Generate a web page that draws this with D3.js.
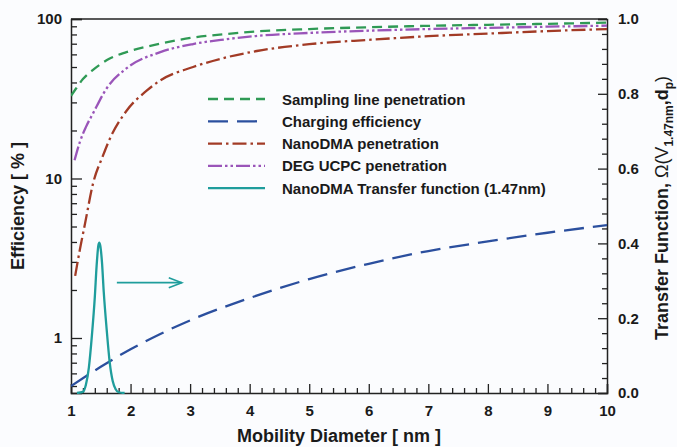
<!DOCTYPE html>
<html>
<head>
<meta charset="utf-8">
<script src="https://cdn.jsdelivr.net/npm/d3@7"></script>
<style>
  body { margin: 0; background: #fbfcfe; }
  svg { display: block; font-family: "Liberation Sans", Arial, sans-serif; font-weight: bold; }
</style>
</head>
<body>
<div id="chart"></div>
<script>
// values
const samplingD = [1.0, 1.07, 1.2, 1.37, 1.65, 1.93, 2.5, 3.05, 3.6, 4.1, 5, 6, 7, 8, 9, 10];
const samplingEff = [33, 36, 42, 48, 56.5, 62, 70, 76.5, 80.5, 83.5, 86.5, 88.8, 90.6, 92, 93.3, 94.8];

const chargingD = [1.0, 1.5, 2, 2.5, 3, 4, 5, 6, 7, 8, 9, 10];
const chargingEff = [0.5, 0.66, 0.85, 1.06, 1.29, 1.78, 2.34, 2.92, 3.51, 4.03, 4.57, 5.1];

const nanoDmaD = [1.07, 1.15, 1.235, 1.37, 1.54, 1.63, 1.93, 2.27, 2.49, 3.05, 3.61, 4.12, 5, 6, 7, 8, 9, 10];
const nanoDmaEff = [2.45, 3.6, 5.2, 9.3, 14, 17, 26.5, 35.5, 41, 50, 57.5, 63, 69.5, 74, 78, 81, 84, 86.5];

const ucpcD = [1.06, 1.15, 1.25, 1.37, 1.6, 1.93, 2.5, 3.05, 3.6, 4.1, 5, 6, 7, 8, 9, 10];
const ucpcEff = [13, 17, 21, 25.6, 36.8, 49, 62, 69.7, 74.6, 78.2, 81.8, 84.5, 86.5, 88, 89.5, 90.8];

const transferD = [1.1, 1.2, 1.25, 1.3, 1.35, 1.4, 1.43, 1.46, 1.475, 1.49, 1.52, 1.55, 1.6, 1.65, 1.7, 1.75, 1.8, 1.9];
const transferVal = [0, 0.003, 0.022, 0.068, 0.152, 0.257, 0.34, 0.395, 0.402, 0.395, 0.35, 0.27, 0.168, 0.082, 0.032, 0.01, 0.002, 0];

const xTicks = [1, 2, 3, 4, 5, 6, 7, 8, 9, 10];
const yLeftTicks = [1, 10, 100];
const yRightTicks = [0, 0.2, 0.4, 0.6, 0.8, 1.0];

const legendLabels = [
    "Sampling line penetration",
    "Charging efficiency",
    "NanoDMA penetration",
    "DEG UCPC penetration",
    "NanoDMA Transfer function (1.47nm)"
];

// arrow pointing to the right axis: x from/to, right-axis value
const arrowD = [1.77, 2.86];
const arrowVal = 0.295;

const width = 677, height = 447;
const margin = { top: 19, right: 70, bottom: 54, left: 71 };
const plotW = width - margin.left - margin.right;
const plotH = height - margin.top - margin.bottom;

const svg = d3.select('#chart').append('svg')
    .attr('width', width)
    .attr('height', height);

const g = svg.append('g').attr('transform', `translate(${margin.left},${margin.top})`);

const x = d3.scaleLinear().domain([1, 10]).range([0, plotW]);
const yL = d3.scaleLog().domain([0.452, 100]).range([plotH, 0]);
const yR = d3.scaleLinear().domain([0, 1]).range([plotH, 0]);

svg.append('defs').append('clipPath').attr('id', 'clip')
    .append('rect').attr('width', plotW).attr('height', plotH + 1);

const series = [
    { d: samplingD, v: samplingEff, color: '#2f9a55', dash: '10,6', axis: yL },
    { d: chargingD, v: chargingEff, color: '#2b4f9e', dash: '20,9', axis: yL },
    { d: nanoDmaD, v: nanoDmaEff, color: '#a23b26', dash: '14,4,2.5,4', axis: yL },
    { d: ucpcD, v: ucpcEff, color: '#9a55b9', dash: '14,3,2.5,3,2.5,3', axis: yL },
    { d: transferD, v: transferVal, color: '#1f9d9c', dash: null, axis: yR }
];

// axes
const axisColor = '#222';

const xMinor = d3.range(1, 10.001, 0.2).filter(t => Math.abs(t - Math.round(t)) > 1e-6);
const leftMinor = [0.5, 0.6, 0.7, 0.8, 0.9, 2, 3, 4, 5, 6, 7, 8, 9, 20, 30, 40, 50, 60, 70, 80, 90];
const rightMinor = d3.range(0.04, 1, 0.04).filter(t => Math.abs(t * 5 - Math.round(t * 5)) > 1e-6);

g.append('g').attr('transform', `translate(0,${plotH})`)
    .call(d3.axisBottom(x).tickValues(xTicks).tickSize(-9).tickPadding(12).tickFormat(d3.format('d')));
g.append('g').attr('transform', `translate(0,${plotH})`)
    .call(d3.axisBottom(x).tickValues(xMinor).tickSize(-5).tickFormat(''))
    .call(a => a.select('.domain').remove());

g.append('g')
    .call(d3.axisLeft(yL).tickValues(yLeftTicks).tickSize(-11).tickPadding(9).tickFormat(d3.format('d')));
g.append('g')
    .call(d3.axisLeft(yL).tickValues(leftMinor).tickSize(-6).tickFormat(''))
    .call(a => a.select('.domain').remove());

g.append('g').attr('transform', `translate(${plotW},0)`)
    .call(d3.axisRight(yR).tickValues(yRightTicks).tickSize(-9).tickPadding(11).tickFormat(d3.format('.1f')));
g.append('g').attr('transform', `translate(${plotW},0)`)
    .call(d3.axisRight(yR).tickValues(rightMinor).tickSize(-5).tickFormat(''))
    .call(a => a.select('.domain').remove());

g.append('line').attr('x1', 0).attr('x2', plotW).attr('y1', 0).attr('y2', 0)
    .attr('stroke', axisColor).attr('stroke-width', 1.5);

g.selectAll('.domain').attr('stroke', axisColor).attr('stroke-width', 1.5);
g.selectAll('.tick line').attr('stroke', axisColor).attr('stroke-width', 1.3);
g.selectAll('.tick text').attr('fill', '#1a1a1a').style('font-size', '15px').style('font-weight', 'bold');

// curves
const lines = g.append('g').attr('clip-path', 'url(#clip)');
series.forEach(s => {
    const pts = s.d.map((d, i) => [d, s.v[i]]);
    const line = d3.line()
        .x(p => x(p[0]))
        .y(p => s.axis(p[1]))
        .curve(d3.curveMonotoneX);
    lines.append('path')
        .datum(pts)
        .attr('d', line)
        .attr('fill', 'none')
        .attr('stroke', s.color)
        .attr('stroke-width', 2.3)
        .attr('stroke-dasharray', s.dash);
});

// arrow
const ax1 = x(arrowD[0]), ax2 = x(arrowD[1]), ay = yR(arrowVal);
g.append('line').attr('x1', ax1).attr('x2', ax2).attr('y1', ay).attr('y2', ay)
    .attr('stroke', '#1f9d9c').attr('stroke-width', 1.6);
g.append('path')
    .attr('d', `M${ax2 - 13},${ay - 5} L${ax2},${ay} L${ax2 - 13},${ay + 5}`)
    .attr('fill', 'none').attr('stroke', '#1f9d9c').attr('stroke-width', 1.6);

// legend
const legend = g.append('g').attr('transform', `translate(${208 - margin.left},${99 - margin.top})`);
legendLabels.forEach((label, i) => {
    const row = legend.append('g').attr('transform', `translate(0,${i * 22.3})`);
    row.append('line').attr('x1', 0).attr('x2', 57).attr('y1', 0).attr('y2', 0)
        .attr('stroke', series[i].color).attr('stroke-width', 2.3)
        .attr('stroke-dasharray', series[i].dash);
    row.append('text').attr('x', 74).attr('y', 5.5)
        .style('font-size', '15px').attr('fill', '#1a1a1a').text(label);
});

// axis titles
svg.append('text')
    .attr('x', margin.left + plotW / 2).attr('y', 442)
    .attr('text-anchor', 'middle').style('font-size', '18px').attr('fill', '#1a1a1a')
    .text('Mobility Diameter [ nm ]');

svg.append('text')
    .attr('transform', `translate(24,${margin.top + plotH / 2}) rotate(-90)`)
    .attr('text-anchor', 'middle').style('font-size', '18px').attr('fill', '#1a1a1a')
    .text('Efficiency [ % ]');

const rt = svg.append('text')
    .attr('transform', `translate(668,${margin.top + plotH / 2 + 2}) rotate(-90)`)
    .attr('text-anchor', 'middle').style('font-size', '18px').attr('fill', '#1a1a1a');
rt.append('tspan').text('Transfer Function, ');
rt.append('tspan').style('font-weight', 'normal').text('Ω(V');
rt.append('tspan').attr('dy', 5).style('font-size', '12px').text('1.47nm');
rt.append('tspan').attr('dy', -5).text(',d');
rt.append('tspan').attr('dy', 5).style('font-size', '12px').text('p');
rt.append('tspan').attr('dy', -5).style('font-weight', 'normal').text(')');
</script>
</body>
</html>
